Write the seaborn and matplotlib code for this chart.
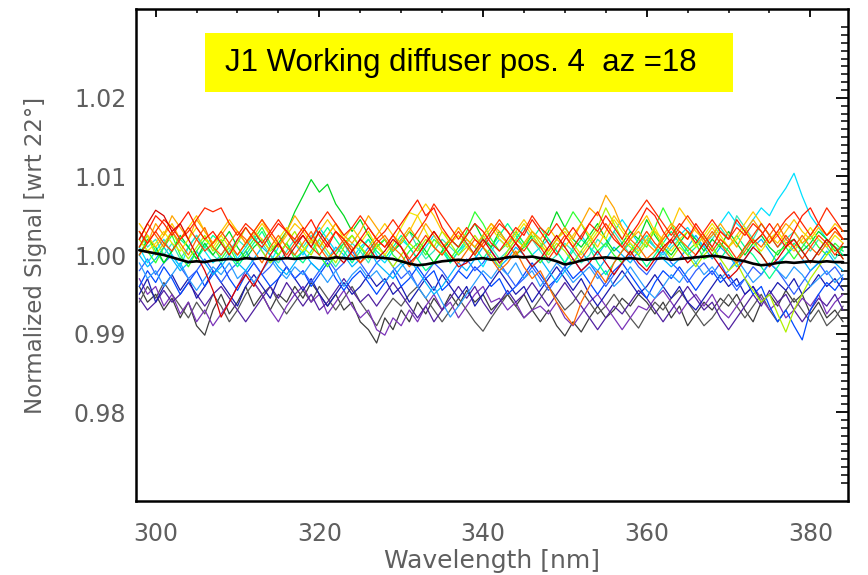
import numpy as np
import pandas as pd
import matplotlib
matplotlib.use("Agg")
import matplotlib.pyplot as plt
import seaborn as sns
from matplotlib.patches import Rectangle
from matplotlib.ticker import FixedLocator, MultipleLocator, FormatStrFormatter

# wavelength grid (nm), one sample per nm
wavelength = np.arange(298, 385)

# deviations from 1.0 in units of 0.001, 298..384 nm
dev_grey = [-4, -6, -5, -7, -5.5, -8, -6, -9, -10.2, -7,
            -5, -7.5, -6, -4, -6.5, -5, -7, -5, -6, -4,
            -5.5, -3.5, -5, -6.5, -5, -7, -6, -8.5, -9.5, -11.2,
            -8, -9.5, -7, -8.5, -6, -7.5, -5.5, -7, -5, -6.5,
            -4.5, -6, -5, -7, -6, -5, -6.5, -5, -7, -8.5,
            -7, -9, -10.3, -8.5, -9.8, -8, -6.5, -8, -7, -5.5,
            -6.5, -5, -6, -7.5, -6, -8, -6.5, -9, -7.5, -6,
            -7, -5.5, -6.5, -5, -7, -8.5, -6, -5, -6.5, -4.5,
            -6, -5, -7.5, -6, -8, -7, -8.5]
dev_grey2 = [-6, -4, -5.5, -3.5, -5, -6.5, -8, -6, -7.5, -5,
             -6.5, -8.5, -7, -5, -3.5, -5, -4, -6, -7.5, -6,
             -4.5, -6, -4, -5.5, -7, -5.5, -4, -6, -7.5, -9,
             -7, -5.5, -6.5, -5, -4, -5.5, -7, -8.5, -7, -5.5,
             -7, -8.5, -9.7, -8, -6.5, -5, -6.5, -8, -7, -5.5,
             -4, -5.5, -7, -6, -4.5, -6, -7.5, -6.5, -5, -6.5,
             -8, -9.3, -7.5, -6, -7, -5.5, -4.5, -6, -7.5, -9,
             -8, -6.5, -5, -6.5, -8, -6.5, -5, -7, -8.5, -7,
             -5.5, -7, -8.5, -7, -9, -8, -6.5]
dev_purple = [-3, -5, -4, -6.5, -5, -7.5, -6, -8.5, -7, -9,
              -7.5, -6, -4, -2, -3.5, -5, -7, -8.5, -6.5, -5,
              -4, -6, -5, -7.5, -6, -4.5, -6.5, -8, -7, -9.5,
              -10.2, -8, -9, -7, -8.5, -6.5, -5, -7, -6, -8,
              -6.5, -5, -4, -6, -5.5, -7, -6, -8, -7, -6.5,
              -7.5, -6, -8, -9, -7.5, -6, -5, -6.5, -8, -9.5,
              -8, -6.5, -7, -5.5, -4.5, -6, -7.5, -6, -5, -6.5,
              -5, -7, -8, -6.5, -5, -4, -5.5, -7, -6, -8,
              -7, -5.5, -6.5, -5, -7.5, -6, -5]
dev_indigo = [-5.5, -7, -6, -4.5, -6, -5, -3.5, -5, -6.5, -5,
              -4, -5.5, -7, -8.5, -7, -5.5, -4, -5.5, -3.5, -5,
              -6.5, -5, -7, -6, -4.5, -3, -4.5, -6, -5, -6.5,
              -5, -3.5, -5, -6.5, -8, -6.5, -8.5, -7, -5.5, -4,
              -5.5, -4, -6, -7.5, -6, -4.5, -6, -5, -3.5, -5,
              -6.5, -5, -3.5, -5, -6.5, -8, -9.5, -8, -6.5, -7.5,
              -6, -4.5, -5.5, -7, -8.5, -7, -5.5, -4, -5.5, -7,
              -6, -8, -9.5, -8, -6.5, -5, -6.5, -4.5, -6, -5,
              -7, -8.5, -7, -5.5, -6.5, -5, -7]
dev_navy = [-5, -3, -6, -4, -2.5, -4.5, -3, -5.5, -4, -2,
            -3.5, -5, -6.5, -4, -2.5, -4, -5.5, -3, -1.5, -3,
            -4.5, -3, -5, -6.5, -5, -3.5, -5, -4, -2.5, -4,
            -3, -5, -4, -6, -4.5, -3, -4.5, -2.5, -4, -5.5,
            -4, -6.5, -5, -3.5, -2, -3.5, -5, -4, -6, -4.5,
            -3, -1.5, -3, -4.5, -3, -5, -6.5, -5, -3.5, -2,
            -3.5, -5, -4, -2.5, -4, -5.5, -4, -6, -7, -5.5,
            -4, -2.5, -4, -3, -5, -4, -6, -5, -3.5, -4.5,
            -3, -5, -4, -2.5, -4, -3, -4.5]
dev_blue = [-4, -2, -3.5, -1.5, -3, -5, -3.5, -2, -4, -2.5,
            -1, -3, -4.5, -2.5, -1, -2.5, -4, -3, -1.5, -3,
            -2, -4, -2.5, -1, -3, -4.5, -3, -2, -3.5, -5,
            -3.5, -2, -4, -3, -1.5, -3, -2, -4.5, -3.5, -2,
            -3, -1.5, -2.5, -4, -3, -5, -4, -2.5, -1, -2.5,
            -4, -3, -1.5, -3, -2, -3.5, -5, -3.5, -2, -1,
            -2.5, -4, -5.5, -3.5, -2, -3, -1.5, -3, -4.5, -3,
            -2, -3.5, -2.5, -4, -3, -5, -4, -6.5, -8.5, -7,
            -9, -10.8, -7, -5, -3.5, -4.5, -3]
dev_royal = [-2, -0.5, -2.5, -1, 0, -1.5, -3, -2, -0.5, -2,
             -3.5, -2, -1, 0.5, -1, -2.5, -1.5, 0, -1.5, -3,
             -2, -3.5, -2, -0.5, -2, -1, 0.5, -1, -2.5, -1,
             0, -1.5, -3, -2, -4, -2.5, -1, -2, -3.5, -2,
             -0.5, -2, -1, 0.5, -1, -2.5, -4, -3, -1.5, -3,
             -4.5, -3, -1.5, -0.5, -2, -1, -2.5, -4, -2.5, -1,
             0, -1.5, -2.5, -1, 0.5, -1, -2, -3.5, -2, -1,
             -2.5, -1, -3, -4.5, -3, -1.5, -2.5, -1, -2, -3.5,
             -5, -3.5, -2, -1, -2.5, -1.5, -3]
dev_dodger = [-1, -3, -2, -4, -2.5, -1, -3, -4.5, -3, -1.5,
              -2.5, -1, -3, -2, -3.5, -2, -0.5, -2, -3, -1.5,
              -2.5, -1, -2, -3.5, -2, -4, -2.5, -1.5, -3, -2,
              -3.5, -2, -1, -2.5, -4, -5.5, -4, -6, -7.9, -6.5,
              -5, -3.5, -2, -3, -1.5, -2.5, -1, -3, -2, -4,
              -2.5, -1, -2, -3.5, -2.5, -1.5, -3, -2, -4, -3,
              -1.5, -3, -4.5, -5.5, -4, -2.5, -3.5, -2, -1, -2.5,
              -1.5, -3, -2, -0.5, -2, -3.5, -2.5, -1, -2, -3,
              -1.5, -2.5, -4, -3, -2, -3.5, -2.5]
dev_sky = [0, -1.5, -0.5, 1, -0.5, -2, -1, 0.5, -1, -2.5,
           -1.5, 0, -1, -2, -0.5, 1, 0, -1.5, -2.5, -1,
           0.5, -1, -2, -0.5, 1, 0, -1.5, -0.5, 1, -1,
           -2, -3, -1.5, -0.5, -2, -3.5, -5, -4, -2.5, -1,
           -2, -0.5, 1, -0.5, -1.5, -0.5, 1, 0, -1.5, -0.5,
           -2, -3.5, -2, -1, 0.5, -1, -2, -0.5, 1, 0,
           -1, 0.5, 2, 1, -0.5, -1.5, -0.5, 1, 2.5, 1,
           -0.5, 1, 0, -1.5, -0.5, 1, 2, 0.5, -1, 0,
           1, -0.5, -2, -1, 0.5, -1, -2]
dev_cyan = [1, -1, 0.5, 2, 0, -1.5, 1, 2.5, 0.5, -1,
            0, 1.5, -0.5, 1, 2.5, 0.5, -1, 1, 3, 1.5,
            0, 2, 3.5, 2, 0.5, 1.5, -0.5, 1, 2, 0,
            -1, 0.5, 2, 1, -0.5, 1, 2.5, 1, -1, 0.5,
            1.5, 0, -1.5, 0.5, 2, 1, 3, 1.5, 0, 1,
            2, 0.5, -1, 1, 2.5, 1, 0, 1.5, 3, 4.5,
            3, 1.5, 2.5, 1, 0, 1.5, 2.5, 3.5, 2, 1,
            2.5, 4, 5.5, 4, 3, 4.5, 6, 5, 7, 8.5,
            10.4, 7.5, 5, 3.5, 2, 1, 0.5]
dev_turquoise = [3, 1, 2, 0, 1.5, -0.5, 1, 2.5, 1, 0,
                 -1, 0.5, 2, 1, 3, 1.5, 0, -1, 0.5, 2,
                 1, 2.5, 1.5, 0, -1.5, 0, 1.5, 0.5, -1, 1,
                 2, 0.5, 1.5, 3, 1, -0.5, 0.5, 2, 1, 0,
                 1.5, 0, 2.5, 1, -0.5, 0.5, 2, 3.5, 2, 0.5,
                 -1, 0, 1.5, 0.5, -1, 0, 2, 1, 3, 1.5,
                 0, 1, 2.5, 1, -0.5, 1, 2, 0.5, -1, 0.5,
                 2, 3.5, 2, 5, 3.5, 2, 4, 2.5, 1, 2,
                 3, 1.5, 0.5, 2, 1, -0.5, 1]
dev_spring = [1, 2.5, 0.5, -1, 0.5, 2, 1, -0.5, 1, 2.5,
              1.5, 0, -1.5, 0, 1.5, 3, 1, 0, 1.5, 0,
              -1, 0.5, 2, 3.5, 2, 0.5, -1, 0.5, 2, 0.5,
              -0.5, 1, 2.5, 1, -0.5, -2, -1, 0.5, -1, 0.5,
              2, 1, -0.5, 1, 2.5, 4, 2.5, 1, 2, 3.5,
              2, 0.5, -1, 0.5, 2, 1, -1, -2.5, -1, 0.5,
              1.5, 0, -1.5, 0, 1.5, 3, 1.5, 0, 1, 2.5,
              1, -0.5, 1, 2.5, 1, 0, -1.5, -3, -1.5, 0,
              1.5, 0.5, -1, 0.5, 2, 1, 0]
dev_green = [0, 2, 1, -1, 0.5, 2.5, 1, -0.5, 1.5, 0,
             1.5, 3, 1, -0.5, 1, 2, 0.5, 1.5, 3, 5.5,
             7.5, 9.6, 8, 9, 6.5, 5, 3, 4.5, 2.5, 1,
             2, 0.5, 1.5, 3, 2, 0.5, -1, 0.5, 2, 1,
             2.5, 4, 2, 1, 3, 1.5, 0, 1, 2.5, 1,
             3, 5.5, 3.5, 2, 1, 2.5, 4, 2, 0.5, 1.5,
             3, 2, 4.5, 2.5, 1, 0, 1.5, 3, 2, 0.5,
             2, 1, 3, 1.5, 0, 1.5, 2.5, 1, 0, 1.5,
             2, 0.5, 1.5, 3, 2, 0.5, 1]
dev_lime = [2, 0.5, -1, 1, 2.5, 0, -1.5, 0.5, 2, 1,
            -0.5, 1, -1, 0.5, 2, 3.5, 1.5, 0, 1.5, -0.5,
            0.5, 2, 0, -1.5, 0, 1.5, 2.5, 1, -0.5, 1,
            2, 0, -1, 0.5, 1.5, 0, 2, 1, -0.5, 1,
            3, 5.5, 4, 2, 0.5, 1.5, 3, 1.5, 0, -1,
            0.5, 2, 3.5, 5.5, 4, 2, 0.5, 1.5, 0, -1,
            0.5, 2, 1, 3.5, 6, 4, 2, 0.5, 1.5, -0.5,
            0, 1.5, 0.5, -1, 1, 2, 0, -1.5, 0.5, 1,
            -0.5, 1, 2.5, 1, 0, 1.5, 0.5]
dev_chartreuse = [1, 2.5, 0, 1.5, 3, 1, -0.5, 1, 2.5, 0.5,
                  2, 0, 1.5, 3.5, 2, 0.5, -1, 0, 1.5, 3,
                  1, 0, 2, 0.5, -1, 1, 2.5, 1, 0, 1.5,
                  0, -1.5, 0, 1.5, 0.5, 2, 1, 3, 1.5, 0,
                  1, 2.5, 1, 0, -1.5, 0.5, 2, 1, 3, 1.5,
                  0, 1.5, 0.5, -1, 0.5, 2, 3.5, 6, 4, 2,
                  1, 0, 1.5, 3, 1, -0.5, 1, 0, -1.5, 0,
                  1, -0.5, -2, -1, -3, -4.5, -6, -5, -7.5, -9.8,
                  -7, -5, -3, -1.5, 0, 1, -0.5]
dev_yellow = [2, 0.5, 1.5, 3, 1.5, 0.5, 2, 3.5, 2, 1,
              2.5, 1, 0, 1.5, 3, 2, 0.5, 2, 3.5, 1.5,
              0.5, 2, 1, 2.5, 4, 2, 0.5, 1.5, 3, 1,
              0, 1.5, 3.5, 5.4, 5, 3, 1, 0, 1.5, 2.5,
              1, 0, 2, 3.5, 2, 1, 2.5, 4, 2.5, 1,
              0.5, 2, 3, 1.5, 0, 1.5, 3, 2, 4.5, 3,
              1.5, 0.5, 2, 3.5, 1.5, 0.5, 2, 3, 1, 2.5,
              4, 2.5, 1, 2, 3.5, 1.5, 0.5, 2, 3, 1.5,
              0.5, 2, 3.5, 2, 1, 2.5, 1.5]
dev_gold = [4, 2.5, 1, 2.5, 4, 2, 3.5, 5, 3, 1.5,
            3, 4.5, 3, 1.5, 2.5, 4, 2.5, 1, 2.5, 4,
            3, 1.5, 3, 4.5, 3, 2, 3.5, 2, 1, 2.5,
            4, 2.5, 1.5, 3, 5, 6.5, 5, 3, 2, 3.5,
            2, 1, 2.5, 4, 2.5, 1.5, 3, 4.5, 3, 2,
            3.5, 2, 1, 2.5, 4, 2.5, 1, 3, 5, 3.5,
            2, 3.5, 5, 3, 2, 3.5, 6, 4.5, 3, 2,
            3.5, 2, 1, 2.5, 4, 5.5, 4, 2.5, 1.5, 3,
            4.5, 3, 2, 3.5, 2.5, 4, 3]
dev_orange = [3, 1.5, 4, 2.5, 5, 3.5, 2, 4.5, 3, 1.5,
              2.5, 4, 3, 1.5, 3, 4.5, 2.5, 1, 3, 5,
              3.5, 2, 1, 2.5, 4, 2.5, 1.5, 3, 5, 3.5,
              2, 0.5, 2, 3.5, 2, 4, 2.5, 1, 2, 3.5,
              2, 1, 2.5, 4, 3, 1.5, 0, 1.5, 3, 2,
              0.5, 2, 3.5, 2, 4, 6, 5, 7.6, 6, 3.5,
              2, 3, 1.5, 0.5, 2.5, 4, 3, 2, 3.5, 1.5,
              2.5, 4, 2.5, 1, 3, 4.5, 3, 1.5, 2.5, 4,
              3, 1.5, 2.5, 4, 2.5, 3.5, 2]
dev_darkorange = [2, 4, 2.5, 1, 3, 1.5, 0, 2, 3.5, 1,
                  0, 1.5, 3, 2, 0.5, -1, 1, 2.5, 1, 0,
                  1.5, 3, 1, -0.5, 0.5, 2, 1, -1, 0, 1.5,
                  2.5, 1, 0, -1.5, 0, 1.5, 3, 1.5, 0, -1,
                  0.5, 2, 1, -0.5, -2, -1, 0.5, -1.5, -3, -2,
                  -4, -6, -7.5, -8.9, -6, -4, -2, -3.5, -1, 0.5,
                  2, 1, -0.5, 0.5, 2, 3.5, 2, 1, 0, 1.5,
                  3, 1.5, 0, -1, 0.5, 2, 1, 2.5, 4, 2,
                  1, 2.5, 1, 0, 1.5, 3, 2]
dev_orangered = [0, 1.5, 3, 1.5, 0.5, 2, 3.5, 2, 0.5, 1.5,
                 3, 1.5, 0, 1.5, 3, 4.5, 3, 1.5, 0, 1.5,
                 2.5, 1, 0, 1.5, 3, 1.5, 0, -1, 0.5, 2,
                 1, 2.5, 1, -0.5, 1, 2.5, 1, 0, 1.5, 3,
                 1.5, 0, 1.5, 3, 4.5, 3, 1.5, 0.5, 2, 1,
                 -0.5, 1, 2.5, 1, -0.5, 1, 2.5, 4, 2.5, 1,
                 0, 1.5, 3, 1.5, 0.5, 2, 3.5, 5, 3.5, 2,
                 0.5, 2, 1, -0.5, 1, 2.5, 4, 2.5, 1, 2.5,
                 1, -0.5, 1, 2.5, 1.5, 0, 1.5]
dev_red = [1, 3, 5, 4, 2.5, 4, 5.5, 3.5, 2, 3,
           1.5, 0, 2, 3.5, 2, 1, 2.5, 4, 3, 1.5,
           3, 4.5, 2.5, 1, 3, 2, 0.5, 2, 3.5, 2,
           1, 2.5, 4, 5.5, 7, 5, 6, 3.5, 2, 1,
           2.5, 4, 3, 1.5, 0.5, 2, 3.5, 2.5, 4.5, 3,
           1.5, 0, 2, 3.5, 2, 4, 5.5, 3.5, 2, 1,
           2.5, 4, 6, 5, 3, 1.5, 3, 2, 4, 2.5,
           1, 3, 2, 4.5, 3, 1.5, 2.5, 4, 2.5, 1,
           3, 5, 6, 4, 2.5, 3.5, 2]
dev_red2 = [3, 1.5, 3, 4.5, 3.5, 2, 3, 4.5, 6, 5.5,
            6, 4, 2.5, 4, 3, 1.5, 3, 4.5, 3, 2,
            3.5, 2, 4, 5.5, 4, 2.5, 3.5, 5, 3.5, 2,
            3, 4.5, 3, 1.5, 3, 4.5, 6.5, 5, 3.5, 2,
            3.5, 2, 1, 2.5, 4, 3, 1.5, 3, 5, 3.5,
            2.5, 4, 2.5, 1, 2.5, 4, 3, 5, 3.5, 2,
            4, 5.5, 7, 5.5, 4, 2.5, 4, 3, 1.5, 3,
            4.5, 3, 2, 3.5, 2.5, 4, 3, 1.5, 3, 4.5,
            5.5, 4, 2.5, 4, 6, 4.5, 3]
dev_crimson = [2, 4, 5.7, 5, 3, 4, 2, 0, -2, -4.5,
               -7.9, -6, -4, -2.5, -4, -2, 0, 1.5, -0.5, 1,
               2.5, 1, 3, 1.5, 0, -1, 0.5, 2, 1, -0.5,
               0.5, 2, 1, -1, 0, 1.5, 3, 1.5, 0, -1.5,
               -1, 0.5, 2, 0.5, -1, 0, 1.5, 0, -1.5, -0.5,
               1, 2.5, 1, -0.5, -2, -1, 0.5, -1, -2.5, -1,
               0.5, -1, -2, -0.5, 1, 2, 0.5, -1, 0, 1.5,
               0, -1.5, -3, -2, -0.5, 1, 0, -1.5, -0.5, 1,
               2, 0.5, -1, 0.5, 2, 1, -0.5]
dev_mean = [0.6, 0.4, 0.2, 0, -0.3, -0.6, -0.9, -0.8, -0.9, -0.7,
            -0.6, -0.5, -0.6, -0.4, -0.5, -0.4, -0.6, -0.5, -0.4, -0.5,
            -0.4, -0.3, -0.4, -0.5, -0.3, -0.4, -0.5, -0.3, -0.2, -0.3,
            -0.4, -0.5, -0.8, -1.1, -1.3, -1.2, -1.0, -0.8, -0.7, -0.6,
            -0.7, -0.5, -0.4, -0.6, -0.5, -0.3, -0.2, -0.3, -0.2, -0.4,
            -0.5, -0.8, -1.2, -1.0, -0.7, -0.5, -0.4, -0.3, -0.4, -0.5,
            -0.4, -0.5, -0.6, -0.5, -0.4, -0.6, -0.5, -0.4, -0.3, -0.2,
            -0.1, -0.2, -0.4, -0.6, -0.8, -1.1, -1.3, -1.2, -1.0, -0.9,
            -1.0, -0.9, -0.8, -0.9, -0.8, -0.9, -0.9]

series_names = ["grey", "grey2", "purple", "indigo", "navy", "blue", "royal",
                "dodger", "sky", "cyan", "turquoise", "spring", "green", "lime",
                "chartreuse", "yellow", "gold", "orange", "darkorange",
                "orangered", "red", "red2", "crimson"]
series_colors = ["#3c3c3c", "#555555", "#7a33b8", "#5020a0", "#1a1ab0", "#0048ff",
                 "#3060ff", "#2a9dff", "#00b4ff", "#00e0ff", "#30e8b8", "#00ff90",
                 "#00d820", "#30ff30", "#b0f000", "#f0e800", "#ffc800", "#ffa500",
                 "#ff6a00", "#ff4000", "#ff1a00", "#ff2800", "#d80000"]
series_dev = [dev_grey, dev_grey2, dev_purple, dev_indigo, dev_navy, dev_blue,
              dev_royal, dev_dodger, dev_sky, dev_cyan, dev_turquoise, dev_spring,
              dev_green, dev_lime, dev_chartreuse, dev_yellow, dev_gold, dev_orange,
              dev_darkorange, dev_orangered, dev_red, dev_red2, dev_crimson]

frames = []
for name, dev in zip(series_names, series_dev):
    assert len(dev) == len(wavelength), name
    frames.append(pd.DataFrame({"wl": wavelength,
                                "signal": 1 + np.asarray(dev) / 1000.0,
                                "series": name}))
df = pd.concat(frames, ignore_index=True)
mean_signal = 1 + np.asarray(dev_mean) / 1000.0

sns.set_style("white")
plt.rcParams["font.family"] = ["DejaVu Sans"]

fig, ax = plt.subplots(figsize=(8.68, 5.75), dpi=100)
fig.subplots_adjust(left=0.1567, right=0.977, bottom=0.1287, top=0.9843)

sns.lineplot(data=df, x="wl", y="signal", hue="series", hue_order=series_names,
             palette=dict(zip(series_names, series_colors)), estimator=None,
             sort=False, linewidth=0.9, legend=False, ax=ax)
sns.lineplot(x=wavelength, y=mean_signal, color="black", linewidth=1.9, ax=ax)

ax.set_xlim(297.6, 384.6)
ax.set_ylim(0.9687, 1.0313)
ax.xaxis.set_major_locator(MultipleLocator(20))
ax.xaxis.set_minor_locator(MultipleLocator(5))
ax.yaxis.set_major_locator(FixedLocator([0.98, 0.99, 1.00, 1.01, 1.02]))
ax.yaxis.set_minor_locator(FixedLocator(
    [0.971 + 0.001 * k for k in range(59) if k % 10 != 9]))
ax.yaxis.set_major_formatter(FormatStrFormatter("%.2f"))

grey = "#5f5f5f"
ax.tick_params(which="both", direction="in", top=True, right=True,
               color="black", labelcolor=grey, labelsize=17)
ax.tick_params(axis="y", which="major", length=9, width=1.3, pad=7)
ax.tick_params(axis="y", which="minor", length=5, width=1.1)
ax.tick_params(axis="x", which="major", length=6, width=1.3, pad=15)
ax.tick_params(axis="x", which="minor", length=3, width=1.1)
for sp in ax.spines.values():
    sp.set_color("black")
    sp.set_linewidth(1.8)

ax.set_xlabel("Wavelength [nm]", fontsize=18, color=grey, labelpad=2)
ax.set_ylabel("Normalized Signal [wrt 22°]", fontsize=16.5, color=grey)
ax.yaxis.set_label_coords(-0.125, 0.5)

# yellow title box
fig.add_artist(Rectangle((205 / 868, 1 - 92 / 575), 528 / 868, 59 / 575,
                         transform=fig.transFigure, facecolor="#ffff00",
                         edgecolor="none", zorder=3))
fig.text(225 / 868, 1 - 63 / 575, "J1 Working diffuser pos. 4  az =18",
         ha="left", va="center", fontsize=22.5, color="black", zorder=4,
         family=["Liberation Sans Narrow", "Liberation Sans"])

fig.savefig("out.png", dpi=100)
